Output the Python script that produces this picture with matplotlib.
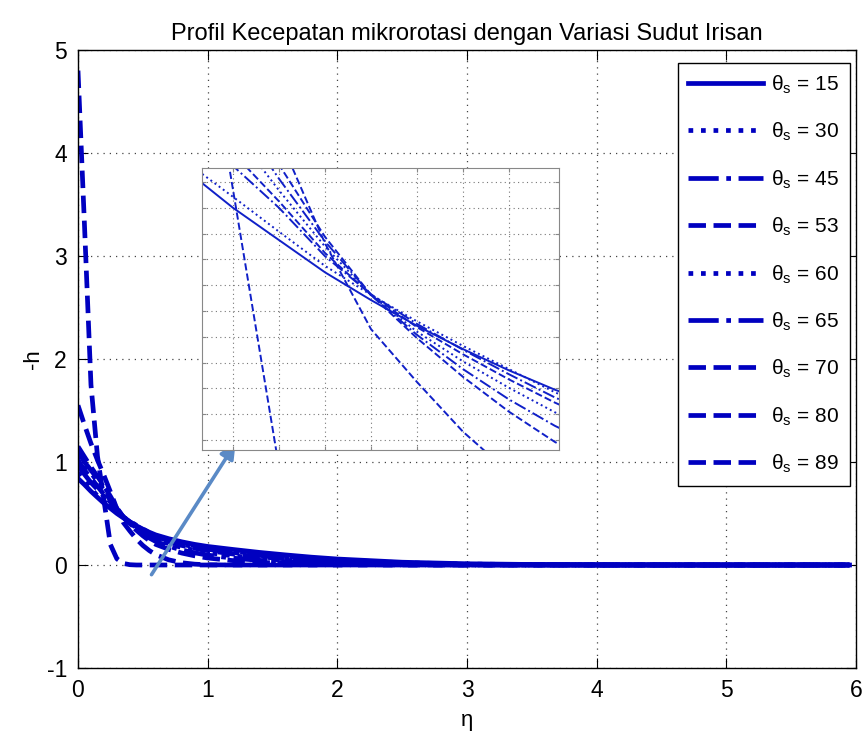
import matplotlib
matplotlib.use("Agg")
import matplotlib.pyplot as plt
import numpy as np

plt.rcParams['font.family'] = ['Liberation Sans', 'DejaVu Sans']
plt.rcParams['mathtext.fontset'] = 'custom'
plt.rcParams['mathtext.rm'] = 'Liberation Sans'
plt.rcParams['axes.unicode_minus'] = False

# eta grid and -h profiles
eta = [0, 0.05, 0.1, 0.15, 0.2, 0.25, 0.3, 0.35, 0.4, 0.45, 0.5, 0.55, 0.6,
       0.7, 0.8, 0.9, 1.0, 1.2, 1.4, 1.6, 1.8, 2.0, 2.5, 3.0, 3.5, 4.0, 5.0, 5.95]

h15 = [0.84, 0.78, 0.715, 0.657, 0.60, 0.55, 0.50, 0.457, 0.417, 0.381, 0.348, 0.318, 0.292,
       0.255, 0.225, 0.20, 0.18, 0.15, 0.122, 0.098, 0.076, 0.058, 0.027, 0.012, 0.005, 0.002, 0, 0]
h30 = [0.90, 0.82, 0.745, 0.67, 0.617, 0.563, 0.51, 0.465, 0.424, 0.386, 0.35, 0.314, 0.284,
       0.245, 0.213, 0.187, 0.166, 0.135, 0.108, 0.085, 0.065, 0.049, 0.022, 0.009, 0.004, 0.001, 0, 0]
h45 = [0.97, 0.88, 0.80, 0.735, 0.665, 0.60, 0.525, 0.466, 0.42, 0.38, 0.342, 0.306, 0.275,
       0.235, 0.202, 0.175, 0.153, 0.12, 0.093, 0.071, 0.053, 0.039, 0.016, 0.006, 0.002, 0, 0, 0]
h53 = [1.02, 0.92, 0.845, 0.765, 0.685, 0.61, 0.53, 0.465, 0.415, 0.373, 0.334, 0.298, 0.266,
       0.224, 0.19, 0.162, 0.14, 0.106, 0.08, 0.059, 0.043, 0.031, 0.012, 0.004, 0.001, 0, 0, 0]
h60 = [1.07, 0.98, 0.895, 0.81, 0.72, 0.627, 0.54, 0.465, 0.408, 0.362, 0.321, 0.283, 0.25,
       0.206, 0.17, 0.142, 0.12, 0.088, 0.064, 0.046, 0.032, 0.023, 0.008, 0.002, 0.001, 0, 0, 0]
h65 = [1.10, 1.0, 0.92, 0.84, 0.75, 0.645, 0.548, 0.465, 0.403, 0.35, 0.303, 0.262, 0.228,
       0.182, 0.146, 0.118, 0.096, 0.066, 0.045, 0.03, 0.02, 0.013, 0.004, 0.001, 0, 0, 0, 0]
h70 = [1.15, 1.05, 0.95, 0.86, 0.77, 0.667, 0.555, 0.465, 0.398, 0.338, 0.284, 0.237, 0.20,
       0.152, 0.116, 0.089, 0.068, 0.042, 0.026, 0.016, 0.01, 0.006, 0.001, 0, 0, 0, 0, 0]
h80 = [1.55, 1.36, 1.18, 1.02, 0.87, 0.71, 0.545, 0.412, 0.33, 0.253, 0.19, 0.14, 0.10,
       0.05, 0.022, 0.008, 0.002, 0, 0, 0, 0, 0, 0, 0, 0, 0, 0, 0]
h89 = [4.8, 3.3, 1.75, 1.058, 0.628, 0.198, 0.06, 0.015, 0.003, 0, 0, 0, 0,
       0, 0, 0, 0, 0, 0, 0, 0, 0, 0, 0, 0, 0, 0, 0]

angles = [15, 30, 45, 53, 60, 65, 70, 80, 89]
profiles = [h15, h30, h45, h53, h60, h65, h70, h80, h89]
styles = ['-', ':', '-.', '--', ':', '-.', '--', '--', '--']

blue = '#0000c0'
grid_kw = dict(color='#444444', linestyle=(0, (1, 4)), linewidth=0.9)


def main():
    fig = plt.figure(figsize=(8.66, 7.35), dpi=100)
    ax = fig.add_axes([78 / 866, 67 / 735, 778 / 866, 618 / 735])

    for ang, h, ls in zip(angles, profiles, styles):
        ax.plot(eta, h, ls, color=blue, lw=3.4, label='θ$_\\mathrm{s}$ = %d' % ang)

    ax.set_xlim(0, 6)
    ax.set_ylim(-1, 5)
    ax.set_xticks(np.arange(0, 7, 1))
    ax.set_yticks(np.arange(-1, 6, 1))
    ax.grid(True, **grid_kw)
    ax.tick_params(direction='in', length=7, top=True, right=True, labelsize=16.5, pad=8)
    for s in ax.spines.values():
        s.set_linewidth(1.0)

    ax.set_title('Profil Kecepatan mikrorotasi dengan Variasi Sudut Irisan', fontsize=17, pad=7)
    ax.set_xlabel('η', fontsize=16, labelpad=6)
    ax.set_ylabel('-h', fontsize=16, labelpad=2)

    leg = ax.legend(loc='upper right', bbox_to_anchor=(0.992, 0.979), borderaxespad=0,
                    fontsize=15, handlelength=3.6, handletextpad=0.4, labelspacing=1.19,
                    fancybox=False, edgecolor='black', framealpha=1, borderpad=0.5)
    leg.get_frame().set_linewidth(1.0)

    # zoomed inset of the crossing region
    ins = fig.add_axes([202 / 866, 285 / 735, 357 / 866, 282 / 735])
    for h, ls in zip(profiles, styles):
        ins.plot(eta, h, ls, color='#1020c8', lw=1.4)
    ins.set_xlim(0.1663, 0.5544)
    ins.set_ylim(0.2246, 0.6617)
    ins.set_xticks(np.arange(0.2, 0.51, 0.05))
    ins.set_yticks(np.arange(0.24, 0.65, 0.04))
    ins.set_xticklabels([])
    ins.set_yticklabels([])
    ins.tick_params(direction='in', length=3, top=True, right=True, color='#888888')
    ins.grid(True, color='#777777', linestyle=(0, (1, 3)), linewidth=0.8)
    for s in ins.spines.values():
        s.set_color('#888888')

    ax.annotate('', xy=(237 / 866, 1 - 441 / 735), xytext=(150 / 866, 1 - 577 / 735),
                xycoords='figure fraction', textcoords='figure fraction',
                arrowprops=dict(arrowstyle='-|>,head_length=0.9,head_width=0.45',
                                color='#5a8ac6', lw=2.6))

    fig.savefig('out.png', dpi=100)


if __name__ == "__main__":
    main()
